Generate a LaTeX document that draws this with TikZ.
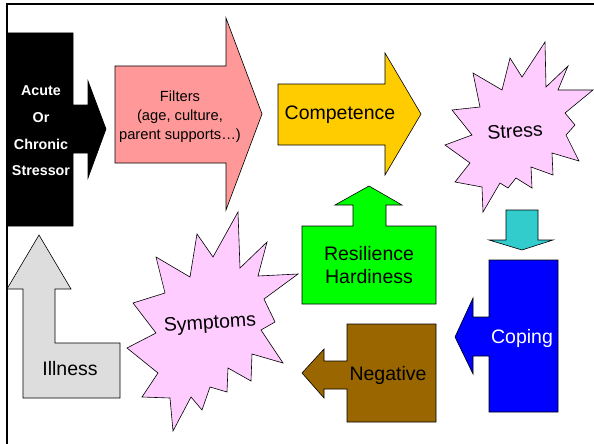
\documentclass[tikz,border=0pt]{standalone}
\usepackage{fontspec}
\setmainfont{Liberation Sans}
\usepackage{xcolor}
\usetikzlibrary{positioning,calc}

\definecolor{filterpink}{HTML}{FF9999}
\definecolor{compyellow}{HTML}{FFCC00}
\definecolor{starpink}{HTML}{FFCCFF}
\definecolor{copecyan}{HTML}{33CCCC}
\definecolor{copeblue}{HTML}{0000FF}
\definecolor{negbrown}{HTML}{996600}
\definecolor{resgreen}{HTML}{00FF00}
\definecolor{illgray}{HTML}{DDDDDD}

\tikzset{
  outline/.style={draw=black, line width=0.6pt, line join=miter},
  biglabel/.style={inner sep=0pt, align=center, font=\fontsize{19.5}{23}\selectfont}
}

\begin{document}
\begin{tikzpicture}[x=1pt,y=-1pt]
    \useasboundingbox (0,0) rectangle (594,444);
    \fill[white] (0,0) rectangle (594,444);

    % Frame
    \draw[line width=2pt] (594,4) -- (7,4) -- (7,444);

    % Acute or chronic stressor
    \draw[outline, fill=black] (7,33) -- (73,33) -- (73,105) -- (88,105) -- (88,81) -- (106,129)
        -- (88,178) -- (88,153) -- (73,153) -- (73,226) -- (7,226) -- cycle;
    \node[inner sep=0pt, align=center, text=white, font=\fontsize{14.3}{26.7}\selectfont\bfseries]
        (stressor) at (41,131) {Acute\\Or\\Chronic\\Stressor};

    % Filters
    \draw[outline, fill=filterpink] (115,66) -- (226,66) -- (226,18) -- (262,114) -- (226,210)
        -- (226,163) -- (115,163) -- cycle;
    \node[inner sep=0pt, align=center, font=\fontsize{14.7}{19}\selectfont]
        (filters) at (180,117) {Filters\\(age, culture,\\parent supports…)};

    % Competence
    \draw[outline, fill=compyellow] (278,84) -- (385,84) -- (385,53) -- (421,114) -- (385,175)
        -- (385,145) -- (278,145) -- cycle;
    \node[biglabel] (competence) at (340,115) {Competence};

    % Stress
    \draw[outline, fill=starpink] (545,42) -- (546,87) -- (568,66) -- (558,90) -- (593,90)
        -- (565,113) -- (575,125) -- (566,135) -- (579,161) -- (552,153) -- (553,175)
        -- (531,167) -- (532,188) -- (516,178) -- (508,188) -- (500,183) -- (483,212)
        -- (482,187) -- (455,182) -- (470,163) -- (445,145) -- (472,135) -- (452,110)
        -- (480,107) -- (473,73) -- (502,90) -- (510,58) -- (522,77) -- cycle;
    \node[biglabel, rotate=4] (stress) at (515,131) {Stress};

    % Stress to coping
    \draw[outline, fill=copecyan] (506,210) -- (538,210) -- (538,240) -- (553,240) -- (522,250)
        -- (489,240) -- (506,240) -- cycle;

    % Coping
    \draw[outline, fill=copeblue] (489,260) -- (558,260) -- (558,412) -- (489,412) -- (489,356)
        -- (473,356) -- (473,374) -- (455,337) -- (473,298) -- (473,317) -- (489,317) -- cycle;
    \node[biglabel, text=white] (coping) at (522,338) {Coping};

    % Negative
    \draw[outline, fill=negbrown] (347,324) -- (436,324) -- (436,422) -- (347,422) -- (347,389)
        -- (324,389) -- (324,398) -- (302,373) -- (324,349) -- (324,361) -- (347,361) -- cycle;
    \node[biglabel] (negative) at (388,375) {Negative};

    % Resilience
    \draw[outline, fill=resgreen] (302,226) -- (353,226) -- (353,205) -- (335,205) -- (369,186)
        -- (402,205) -- (386,205) -- (386,226) -- (436,226) -- (436,304) -- (302,304) -- cycle;
    \node[biglabel] (resilience) at (369,265) {Resilience\\Hardiness};

    % Symptoms
    \draw[outline, fill=starpink] (238,212) -- (240,268) -- (267,242) -- (258,276) -- (298,274)
        -- (264,299) -- (275,322) -- (261,330) -- (283,363) -- (252,354) -- (251,381)
        -- (228,368) -- (227,392) -- (210,387) -- (202,410) -- (191,397) -- (173,431)
        -- (170,398) -- (142,397) -- (158,373) -- (127,348) -- (156,333) -- (133,303)
        -- (165,293) -- (156,257) -- (190,277) -- (197,234) -- (213,257) -- cycle;
    \node[biglabel, rotate=4] (symptoms) at (210,324) {Symptoms};

    % Illness
    \draw[outline, fill=illgray] (23,398) -- (120,398) -- (120,343) -- (55,343) -- (55,289)
        -- (71,289) -- (39,235) -- (7,289) -- (23,289) -- cycle;
    \node[biglabel] (illness) at (70,369) {Illness};
\end{tikzpicture}
\end{document}
